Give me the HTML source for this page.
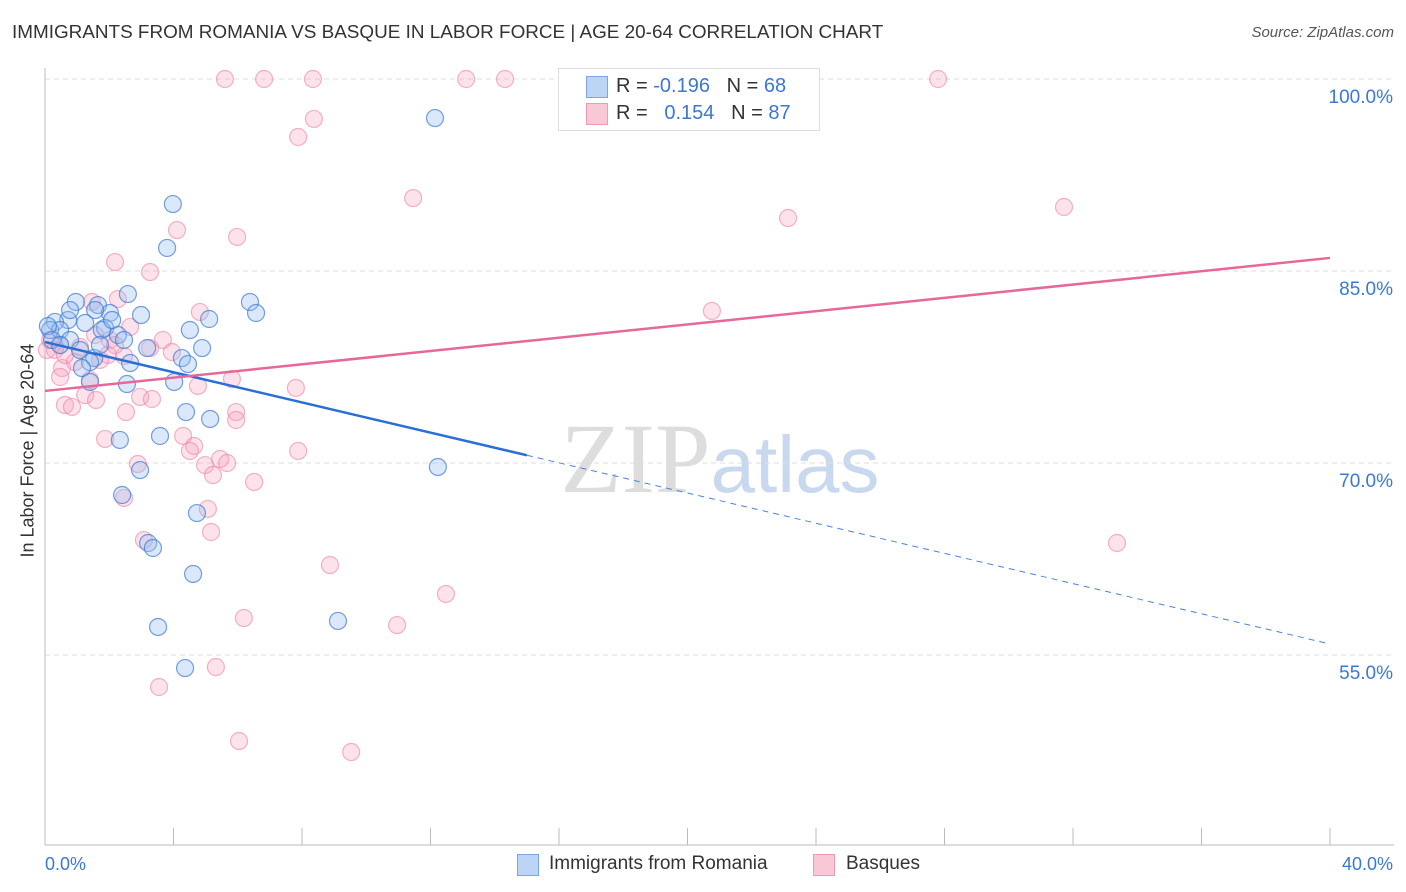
<!DOCTYPE html>
<html><head><meta charset="utf-8"><style>
body{margin:0;background:#fff;font-family:"Liberation Sans",sans-serif;}
#wrap{position:relative;width:1406px;height:892px;overflow:hidden;}
.t{position:absolute;white-space:nowrap;}
</style></head><body>
<div id="wrap">
<div class="t" style="left:12px;top:22px;font-size:18.9px;color:#333;">IMMIGRANTS FROM ROMANIA VS BASQUE IN LABOR FORCE | AGE 20-64 CORRELATION CHART</div>
<div class="t" style="right:12px;top:24px;font-size:15px;color:#555;font-style:italic;">Source: ZipAtlas.com</div>
<div class="t" style="left:-72px;top:446px;font-size:18px;color:#333;transform:rotate(-90deg);transform-origin:center;width:200px;text-align:center;top:447px;">In Labor Force | Age 20-64</div>
<svg id="plot" width="1406" height="892" style="position:absolute;left:0;top:0"></svg>
<div style="position:absolute;left:558px;top:68px;width:260px;height:61px;border:1px solid #ddd;background:rgba(255,255,255,0.9);font-size:20px;">
<div style="position:absolute;left:27px;top:7px;width:20px;height:20px;background:#bcd5f5;border:1px solid #7aa6e6;"></div>
<div class="t" style="left:57px;top:6px;color:#333;">R = <span style="color:#3a78d4">-0.196</span>&nbsp;&nbsp;&nbsp;N = <span style="color:#3a78d4">68</span></div>
<div style="position:absolute;left:27px;top:34px;width:20px;height:20px;background:#f9c8d6;border:1px solid #ee9ab3;"></div>
<div class="t" style="left:57px;top:33px;color:#333;">R = &nbsp;&nbsp;<span style="color:#3a78d4">0.154</span>&nbsp;&nbsp;&nbsp;N = <span style="color:#3a78d4">87</span></div>
</div>
<div style="position:absolute;left:517px;top:853px;font-size:19px;color:#333;">
<span style="position:absolute;left:0;top:1px;width:20px;height:20px;background:#bcd5f5;border:1px solid #7aa6e6;"></span>
<span class="t" style="left:32px;top:0;">Immigrants from Romania</span>
<span style="position:absolute;left:296px;top:1px;width:20px;height:20px;background:#f9c8d6;border:1px solid #ee9ab3;"></span>
<span class="t" style="left:329px;top:0;">Basques</span>
</div>
</div>
<script>
const blueX=[12.14,3.98,3.80,2.58,0.96,6.38,6.57,2.99,5.11,4.51,1.65,2.02,1.25,0.72,0.31,0.16,0.47,0.78,1.87,2.27,2.46,1.77,0.09,0.22,3.18,4.89,4.26,4.45,1.53,1.40,2.65,1.15,2.55,4.02,1.40,4.39,5.14,3.58,2.33,12.23,2.96,2.40,4.73,3.21,3.36,4.61,3.52,9.12,4.36,1.09,0.47,2.09,1.56,0.78,1.71];
const blueY=[96.95,90.23,86.80,83.20,82.58,82.58,81.72,81.56,81.25,80.39,82.34,81.72,80.94,81.17,81.02,80.39,80.39,79.61,80.55,80.0,79.61,80.39,80.70,79.61,78.98,78.98,78.20,77.73,78.20,77.89,77.81,77.42,76.17,76.33,76.33,73.98,73.44,72.11,71.80,69.69,69.45,67.50,66.09,63.75,63.36,61.33,57.19,57.66,53.98,78.83,79.22,81.17,81.95,81.95,79.22];
const pinkX=[5.60,6.82,8.34,13.11,14.32,27.80,8.37,7.88,11.46,23.13,31.72,4.11,5.98,2.18,3.27,2.27,1.46,20.76,4.82,2.65,3.67,3.27,3.95,2.02,1.96,1.71,2.46,0.47,0.31,0.93,0.53,0.47,5.82,7.81,4.76,1.40,1.25,1.59,2.96,3.33,0.62,0.84,2.52,5.95,5.95,4.30,4.64,4.51,1.87,7.88,5.45,2.89,4.98,5.67,5.23,6.51,2.46,5.07,5.17,3.08,33.37,8.87,12.48,6.19,10.96,5.32,3.55,6.04,9.53,0.06,0.16,1.09,1.56,2.18,0.62];
const pinkY=[100,100,100,100,100,100,96.88,95.47,90.70,89.14,90.0,88.20,87.66,85.70,84.92,82.81,82.58,81.88,81.80,80.63,79.61,78.98,78.67,79.61,78.44,78.05,78.36,79.22,78.83,77.89,77.42,76.72,76.56,75.86,76.02,76.48,75.31,74.92,75.16,75.0,74.53,74.38,73.98,73.98,73.36,72.11,71.33,70.94,71.88,70.94,70.31,69.92,69.84,70.0,69.06,68.52,67.27,66.41,64.61,63.98,63.75,62.03,59.77,57.89,57.34,54.06,52.50,48.28,47.42,78.83,79.61,79.06,80.0,79.22,78.44];
const blueTrend=[79.45,55.86]; const blueSolidEnd=15.0;
const pinkTrend=[75.63,86.02];
const yTicks=[100,85,70,55];
const xTicks=[0,4,8,12,16,20,24,28,32,36,40];
const NS='http://www.w3.org/2000/svg';
const svg=document.getElementById('plot');
const X=v=>45+v*32.125, Y=v=>79+(100-v)*12.8;
function mk(tag,attrs){const e=document.createElementNS(NS,tag);for(const k in attrs)e.setAttribute(k,attrs[k]);svg.appendChild(e);return e;}
const wm=mk('text',{x:720,y:492,'text-anchor':'middle','font-size':'100','font-family':'Liberation Serif, serif',fill:'#ddd'});


wm.innerHTML='ZIP<tspan fill="#c8d9ef" font-family="Liberation Sans, sans-serif" font-size="80">atlas</tspan>';
yTicks.forEach(v=>{
 const g=mk('line',{x1:45,x2:1394,y1:Y(v),y2:Y(v),stroke:'#ddd','stroke-dasharray':'5,4'});
 
 
 const t=mk('text',{x:1393,y:Y(v)+24,'text-anchor':'end','font-size':'19',fill:'#3a78d4','font-family':'Liberation Sans, sans-serif'});
 t.textContent=v.toFixed(1)+'%';
 
 
});
const ax=mk('line',{x1:45,x2:45,y1:68,y2:845,stroke:'#bbb'});


const bx=mk('line',{x1:45,x2:1394,y1:845,y2:845,stroke:'#bbb'});


xTicks.forEach(v=>{
 const l=mk('line',{x1:X(v),x2:X(v),y1:828,y2:845,stroke:'#bbb'});
 
 
});
[[0,'start',45],[40,'end',1393]].forEach(([v,a,px])=>{
 const t=mk('text',{x:px,y:870,'text-anchor':a,'font-size':'18',fill:'#3a78d4','font-family':'Liberation Sans, sans-serif'});
 t.textContent=v.toFixed(1)+'%';
 
 
});
pinkX.forEach((x,i)=>{
 const c=mk('circle',{cx:X(x),cy:Y(pinkY[i]),r:8.5,fill:'rgba(246,160,188,0.3)',stroke:'rgba(236,130,165,0.6)','stroke-width':1.2});
 
 
});
blueX.forEach((x,i)=>{
 const c=mk('circle',{cx:X(x),cy:Y(blueY[i]),r:8.5,fill:'rgba(150,190,240,0.35)',stroke:'rgba(60,120,210,0.7)','stroke-width':1.2});
 
 
});
const by=x=>blueTrend[0]+(blueTrend[1]-blueTrend[0])*x/40;
const b1=mk('line',{x1:X(0),y1:Y(by(0)),x2:X(blueSolidEnd),y2:Y(by(blueSolidEnd)),stroke:'#2a6fd6','stroke-width':2.5});


const b2=mk('line',{x1:X(blueSolidEnd),y1:Y(by(blueSolidEnd)),x2:X(40),y2:Y(by(40)),stroke:'#4a84dc','stroke-width':1,'stroke-dasharray':'6,5'});


const p1=mk('line',{x1:X(0),y1:Y(pinkTrend[0]),x2:X(40),y2:Y(pinkTrend[1]),stroke:'#e8679a','stroke-width':2.5});


</script>
</body></html>
